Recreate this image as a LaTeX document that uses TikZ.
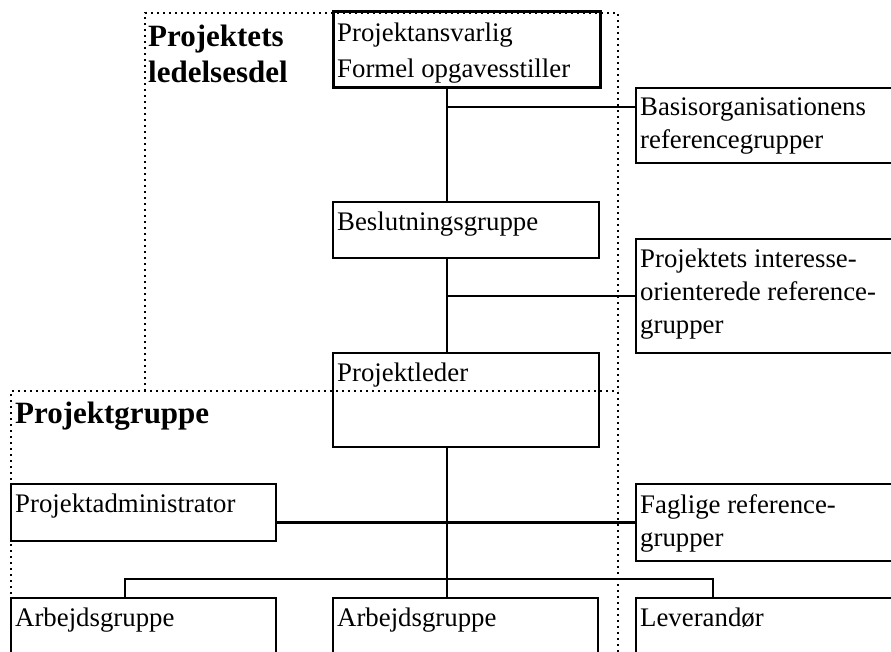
\documentclass[tikz,border=0pt]{standalone}
\usepackage{fontspec}
\setmainfont{Liberation Serif}
\usetikzlibrary{calc}
\begin{document}
\begin{tikzpicture}[x=1pt,y=-1pt,
  box/.style={draw,line width=2.6pt,anchor=north west,outer sep=0pt,inner sep=0pt},
  boxtext/.style={anchor=north west,align=left,inner xsep=4pt,inner ysep=10pt,
    font=\fontsize{26.8}{33}\selectfont},
  heading/.style={anchor=north west,align=left,inner sep=0pt,
    font=\bfseries\fontsize{31}{36}\selectfont},
  frame/.style={line width=2.2pt,dash pattern=on 2.2pt off 3.8pt},
  link/.style={line width=2.2pt}]
\useasboundingbox (0,0) rectangle (891,652);
% dotted frames
\coordinate (spine) at (447,0);
\draw[frame] (145,391) -- (145,13) -- (618,13) -- (618,660);
\draw[frame] (11,660) -- (11,391) -- (618,391);
\node[heading] (ledelse) at (148,25) {Projektets\\ledelsesdel};
\node[heading] (gruppe) at (15,402) {Projektgruppe};
% boxes
\node[box,line width=3pt,minimum width=267pt,minimum height=76pt,
  label={[boxtext,inner ysep=11pt,font=\fontsize{26.8}{36}\selectfont]north west:Projektansvarlig\\Formel opgavesstiller}] (ansv) at (333,12) {};
\node[box,minimum width=258pt,minimum height=75pt,
  label={[boxtext]north west:Basisorganisationens\\referencegrupper}] (basis) at (636,88) {};
\node[box,minimum width=266pt,minimum height=56pt,
  label={[boxtext]north west:Beslutningsgruppe}] (beslut) at (333,202) {};
\node[box,minimum width=258pt,minimum height=114pt,
  label={[boxtext]north west:Projektets interesse-\\orienterede reference-\\grupper}] (interesse) at (636,239) {};
\node[box,minimum width=266pt,minimum height=94pt,
  label={[boxtext]north west:Projektleder}] (leder) at (333,353) {};
\node[box,minimum width=265pt,minimum height=57pt,
  label={[boxtext]north west:Projektadministrator}] (admin) at (11,484) {};
\node[box,minimum width=258pt,minimum height=77pt,
  label={[boxtext]north west:Faglige reference-\\grupper}] (faglig) at (636,484) {};
\node[box,minimum width=265pt,minimum height=80pt,
  label={[boxtext]north west:Arbejdsgruppe}] (arb1) at (11,598) {};
\node[box,minimum width=265pt,minimum height=80pt,
  label={[boxtext]north west:Arbejdsgruppe}] (arb2) at (333,598) {};
\node[box,minimum width=258pt,minimum height=80pt,
  label={[boxtext]north west:Leverandør}] (lev) at (636,598) {};
% connectors
\coordinate (j1) at (447,107);
\coordinate (j2) at (447,296);
\coordinate (bus) at (447,579);
\draw[link] (ansv.south -| spine) -- (beslut.north -| spine);
\draw[link] (j1) -- (j1 -| basis.west);
\draw[link] (beslut.south -| spine) -- (leder.north -| spine);
\draw[link] (j2) -- (interesse.west);
\draw[link] (leder.south -| spine) -- (arb2.north -| spine);
\draw[link] (faglig.west -| admin.east) -- (faglig.west);
\draw[link] ($(arb1.north west)+(114,0)$) |- (bus) -| ($(lev.north west)+(77,0)$);
\end{tikzpicture}
\end{document}
